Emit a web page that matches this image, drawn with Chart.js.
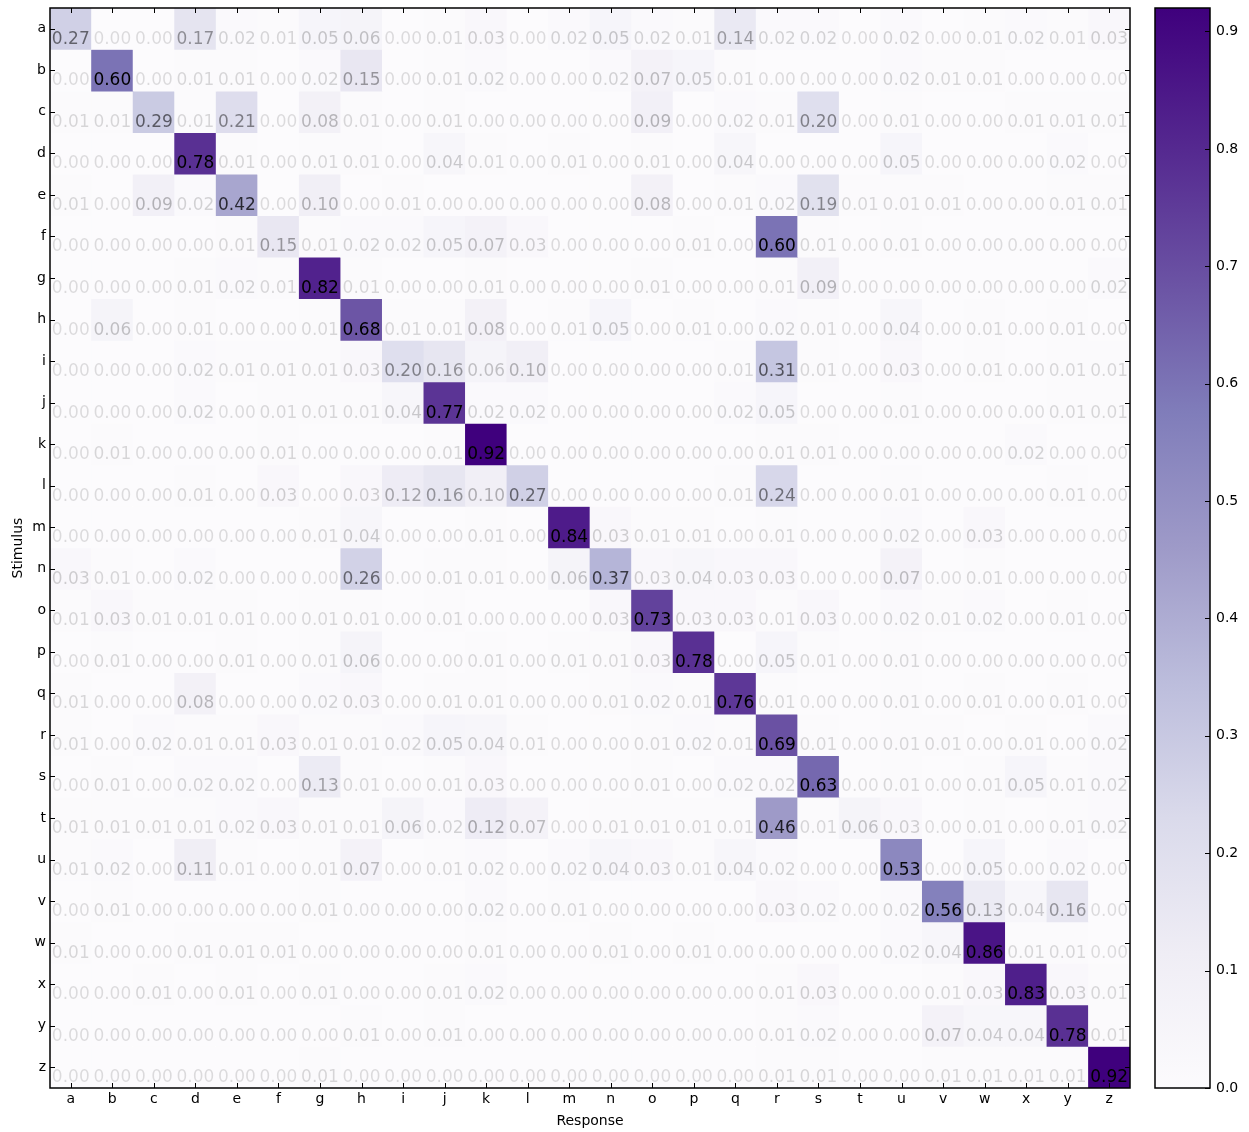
<!DOCTYPE html>
<html>
<head>
<meta charset="utf-8">
<title>Confusion matrix</title>
<script src="https://cdn.jsdelivr.net/npm/chart.js@4.4.1/dist/chart.umd.min.js"></script>
<style>
  html, body { margin: 0; padding: 0; background: #fff; }
  #wrap { position: relative; width: 1249px; height: 1132px; }
  #mainBox { position: absolute; left: 0; top: 0; width: 1140px; height: 1132px; }
  #barBox { position: absolute; left: 1140px; top: 0; width: 109px; height: 1132px; }
</style>
</head>
<body>
<div id="wrap">
  <div id="mainBox"><canvas id="matrixChart"></canvas></div>
  <div id="barBox"><canvas id="colorBar"></canvas></div>
</div>
<script>
/** Data */
const responses = 'abcdefghijklmnopqrstuvwxyz'.split('');
const stimuli = 'abcdefghijklmnopqrstuvwxyz'.split('');
const barTicks = [0.0, 0.1, 0.2, 0.3, 0.4, 0.5, 0.6, 0.7, 0.8, 0.9];

const rowA = [0.27, 0.00, 0.00, 0.17, 0.02, 0.01, 0.05, 0.06, 0.00, 0.01, 0.03, 0.00, 0.02, 0.05, 0.02, 0.01, 0.14, 0.02, 0.02, 0.00, 0.02, 0.00, 0.01, 0.02, 0.01, 0.03];
const rowB = [0.00, 0.60, 0.00, 0.01, 0.01, 0.00, 0.02, 0.15, 0.00, 0.01, 0.02, 0.00, 0.00, 0.02, 0.07, 0.05, 0.01, 0.00, 0.00, 0.00, 0.02, 0.01, 0.01, 0.00, 0.00, 0.00];
const rowC = [0.01, 0.01, 0.29, 0.01, 0.21, 0.00, 0.08, 0.01, 0.00, 0.01, 0.00, 0.00, 0.00, 0.00, 0.09, 0.00, 0.02, 0.01, 0.20, 0.00, 0.01, 0.00, 0.00, 0.01, 0.01, 0.01];
const rowD = [0.00, 0.00, 0.00, 0.78, 0.01, 0.00, 0.01, 0.01, 0.00, 0.04, 0.01, 0.00, 0.01, 0.00, 0.01, 0.00, 0.04, 0.00, 0.00, 0.00, 0.05, 0.00, 0.00, 0.00, 0.02, 0.00];
const rowE = [0.01, 0.00, 0.09, 0.02, 0.42, 0.00, 0.10, 0.00, 0.01, 0.00, 0.00, 0.00, 0.00, 0.00, 0.08, 0.00, 0.01, 0.02, 0.19, 0.01, 0.01, 0.01, 0.00, 0.00, 0.01, 0.01];
const rowF = [0.00, 0.00, 0.00, 0.00, 0.01, 0.15, 0.01, 0.02, 0.02, 0.05, 0.07, 0.03, 0.00, 0.00, 0.00, 0.01, 0.00, 0.60, 0.01, 0.00, 0.01, 0.00, 0.00, 0.00, 0.00, 0.00];
const rowG = [0.00, 0.00, 0.00, 0.01, 0.02, 0.01, 0.82, 0.01, 0.00, 0.00, 0.01, 0.00, 0.00, 0.00, 0.01, 0.00, 0.00, 0.01, 0.09, 0.00, 0.00, 0.00, 0.00, 0.00, 0.00, 0.02];
const rowH = [0.00, 0.06, 0.00, 0.01, 0.00, 0.00, 0.01, 0.68, 0.01, 0.01, 0.08, 0.00, 0.01, 0.05, 0.00, 0.01, 0.00, 0.02, 0.01, 0.00, 0.04, 0.00, 0.01, 0.00, 0.01, 0.00];
const rowI = [0.00, 0.00, 0.00, 0.02, 0.01, 0.01, 0.01, 0.03, 0.20, 0.16, 0.06, 0.10, 0.00, 0.00, 0.00, 0.00, 0.01, 0.31, 0.01, 0.00, 0.03, 0.00, 0.01, 0.00, 0.01, 0.01];
const rowJ = [0.00, 0.00, 0.00, 0.02, 0.00, 0.01, 0.01, 0.01, 0.04, 0.77, 0.02, 0.02, 0.00, 0.00, 0.00, 0.00, 0.02, 0.05, 0.00, 0.00, 0.01, 0.00, 0.00, 0.00, 0.01, 0.01];
const rowK = [0.00, 0.01, 0.00, 0.00, 0.00, 0.01, 0.00, 0.00, 0.00, 0.01, 0.92, 0.00, 0.00, 0.00, 0.00, 0.00, 0.00, 0.01, 0.01, 0.00, 0.00, 0.00, 0.00, 0.02, 0.00, 0.00];
const rowL = [0.00, 0.00, 0.00, 0.01, 0.00, 0.03, 0.00, 0.03, 0.12, 0.16, 0.10, 0.27, 0.00, 0.00, 0.00, 0.00, 0.01, 0.24, 0.00, 0.00, 0.01, 0.00, 0.00, 0.00, 0.01, 0.00];
const rowM = [0.00, 0.00, 0.00, 0.00, 0.00, 0.00, 0.01, 0.04, 0.00, 0.00, 0.01, 0.00, 0.84, 0.03, 0.01, 0.01, 0.00, 0.01, 0.00, 0.00, 0.02, 0.00, 0.03, 0.00, 0.00, 0.00];
const rowN = [0.03, 0.01, 0.00, 0.02, 0.00, 0.00, 0.00, 0.26, 0.00, 0.01, 0.01, 0.00, 0.06, 0.37, 0.03, 0.04, 0.03, 0.03, 0.00, 0.00, 0.07, 0.00, 0.01, 0.00, 0.00, 0.00];
const rowO = [0.01, 0.03, 0.01, 0.01, 0.01, 0.00, 0.01, 0.01, 0.00, 0.01, 0.00, 0.00, 0.00, 0.03, 0.73, 0.03, 0.03, 0.01, 0.03, 0.00, 0.02, 0.01, 0.02, 0.00, 0.01, 0.00];
const rowP = [0.00, 0.01, 0.00, 0.00, 0.01, 0.00, 0.01, 0.06, 0.00, 0.00, 0.01, 0.00, 0.01, 0.01, 0.03, 0.78, 0.00, 0.05, 0.01, 0.00, 0.01, 0.00, 0.00, 0.00, 0.00, 0.00];
const rowQ = [0.01, 0.00, 0.00, 0.08, 0.00, 0.00, 0.02, 0.03, 0.00, 0.01, 0.01, 0.00, 0.00, 0.01, 0.02, 0.01, 0.76, 0.01, 0.00, 0.00, 0.01, 0.00, 0.01, 0.00, 0.01, 0.00];
const rowR = [0.01, 0.00, 0.02, 0.01, 0.01, 0.03, 0.01, 0.01, 0.02, 0.05, 0.04, 0.01, 0.00, 0.00, 0.01, 0.02, 0.01, 0.69, 0.01, 0.00, 0.01, 0.01, 0.00, 0.01, 0.00, 0.02];
const rowS = [0.00, 0.01, 0.00, 0.02, 0.02, 0.00, 0.13, 0.01, 0.00, 0.01, 0.03, 0.00, 0.00, 0.00, 0.01, 0.00, 0.02, 0.02, 0.63, 0.00, 0.01, 0.00, 0.01, 0.05, 0.01, 0.02];
const rowT = [0.01, 0.01, 0.01, 0.01, 0.02, 0.03, 0.01, 0.01, 0.06, 0.02, 0.12, 0.07, 0.00, 0.01, 0.01, 0.01, 0.01, 0.46, 0.01, 0.06, 0.03, 0.00, 0.01, 0.00, 0.01, 0.02];
const rowU = [0.01, 0.02, 0.00, 0.11, 0.01, 0.00, 0.01, 0.07, 0.00, 0.01, 0.02, 0.00, 0.02, 0.04, 0.03, 0.01, 0.04, 0.02, 0.00, 0.00, 0.53, 0.00, 0.05, 0.00, 0.02, 0.00];
const rowV = [0.00, 0.01, 0.00, 0.00, 0.00, 0.00, 0.01, 0.00, 0.00, 0.00, 0.02, 0.00, 0.01, 0.00, 0.00, 0.00, 0.00, 0.03, 0.02, 0.00, 0.02, 0.56, 0.13, 0.04, 0.16, 0.00];
const rowW = [0.01, 0.00, 0.00, 0.01, 0.01, 0.01, 0.00, 0.00, 0.00, 0.00, 0.01, 0.00, 0.00, 0.01, 0.00, 0.01, 0.00, 0.00, 0.00, 0.00, 0.02, 0.04, 0.86, 0.01, 0.01, 0.00];
const rowX = [0.00, 0.00, 0.01, 0.00, 0.01, 0.00, 0.01, 0.00, 0.00, 0.01, 0.02, 0.00, 0.00, 0.00, 0.00, 0.00, 0.00, 0.01, 0.03, 0.00, 0.00, 0.01, 0.03, 0.83, 0.03, 0.01];
const rowY = [0.00, 0.00, 0.00, 0.00, 0.00, 0.00, 0.00, 0.01, 0.00, 0.01, 0.00, 0.00, 0.00, 0.00, 0.00, 0.00, 0.00, 0.01, 0.02, 0.00, 0.00, 0.07, 0.04, 0.04, 0.78, 0.01];
const rowZ = [0.00, 0.00, 0.00, 0.00, 0.00, 0.00, 0.01, 0.00, 0.00, 0.00, 0.00, 0.00, 0.00, 0.00, 0.00, 0.00, 0.00, 0.01, 0.01, 0.00, 0.00, 0.01, 0.01, 0.01, 0.01, 0.92];

const matrix = [rowA, rowB, rowC, rowD, rowE, rowF, rowG, rowH, rowI, rowJ, rowK, rowL, rowM,
  rowN, rowO, rowP, rowQ, rowR, rowS, rowT, rowU, rowV, rowW, rowX, rowY, rowZ];
const vmax = Math.max(...matrix.map((r) => Math.max(...r)));
/** End of Data */

// matplotlib "Purples"
const purpleStops = ['#fcfbfd', '#efedf5', '#dadaeb', '#bcbddc', '#9e9ac8', '#807dba', '#6a51a3', '#54278f', '#3f007d'];

function hexToRgb(h) {
  return [1, 3, 5].map((i) => parseInt(h.substr(i, 2), 16));
}

function purples(t) {
  t = Math.min(1, Math.max(0, t));
  const pos = t * (purpleStops.length - 1);
  const i = Math.min(Math.floor(pos), purpleStops.length - 2);
  const f = pos - i;
  const a = hexToRgb(purpleStops[i]);
  const b = hexToRgb(purpleStops[i + 1]);
  const c = a.map((v, k) => Math.round(v + (b[k] - v) * f));
  return `rgb(${c[0]}, ${c[1]}, ${c[2]})`;
}

function textAlpha(v) {
  return Math.min(1, 0.13 + 1.5 * v);
}

const font = '"DejaVu Sans", sans-serif';

// fixed box sizes, no extra room for label overflow
function fixBox(w, h) {
  return (s) => {
    if (w) s.width = w;
    if (h) s.height = h;
    s.paddingTop = 0;
    s.paddingBottom = 0;
    s.paddingLeft = 0;
    s.paddingRight = 0;
  };
}

/** Plugins */
const frameTicks = {
  id: 'frameTicks',
  afterDraw(chart, args, opts) {
    const { ctx, chartArea: a } = chart;
    const len = 5;
    ctx.save();
    ctx.strokeStyle = '#000';
    ctx.lineWidth = 1;
    ctx.beginPath();
    (opts.xSides || []).forEach((side) => {
      const sx = chart.scales.x;
      sx.ticks.forEach((t, i) => {
        const px = Math.round(sx.getPixelForTick(i)) + 0.5;
        const y0 = side === 'top' ? a.top : a.bottom;
        const dir = side === 'top' ? 1 : -1;
        ctx.moveTo(px, y0);
        ctx.lineTo(px, y0 + dir * len);
      });
    });
    (opts.ySides || []).forEach((side) => {
      const sy = chart.scales.y;
      sy.ticks.forEach((t, i) => {
        const py = Math.round(sy.getPixelForTick(i)) + 0.5;
        const x0 = side === 'left' ? a.left : a.right;
        const dir = side === 'left' ? 1 : -1;
        ctx.moveTo(x0, py);
        ctx.lineTo(x0 + dir * len, py);
      });
    });
    ctx.stroke();
    ctx.lineWidth = 1.5;
    ctx.strokeRect(a.left, a.top, a.width, a.height);
    ctx.restore();
  },
};

const cellText = {
  id: 'cellText',
  afterDatasetsDraw(chart) {
    const { ctx, chartArea: a } = chart;
    ctx.save();
    ctx.beginPath();
    ctx.rect(a.left, a.top, a.width, a.height);
    ctx.clip();
    ctx.font = `17px ${font}`;
    ctx.textAlign = 'center';
    ctx.textBaseline = 'alphabetic';
    matrix.forEach((row, r) => {
      chart.getDatasetMeta(r).data.forEach((bar, c) => {
        const p = bar.getCenterPoint();
        ctx.fillStyle = `rgba(0, 0, 0, ${textAlpha(row[c])})`;
        ctx.fillText(row[c].toFixed(2), p.x, p.y + 15);
      });
    });
    ctx.restore();
  },
};
/** End of Plugins */

/** Charts */
function drawMatrix() {
  const canvas = document.getElementById('matrixChart');
  new Chart(canvas.getContext('2d'), {
    type: 'bar',
    data: {
      labels: responses,
      datasets: matrix.map((row, r) => ({
        label: stimuli[r],
        data: row.map(() => [r, r + 1]),
        backgroundColor: row.map((v) => purples(v / vmax)),
        borderWidth: 0,
        grouped: false,
        barPercentage: 1,
        categoryPercentage: 1,
      })),
    },
    options: {
      responsive: true,
      maintainAspectRatio: false,
      animation: false,
      layout: { padding: { top: 8, right: 10, left: 0, bottom: 0 } },
      plugins: {
        legend: { display: false },
        tooltip: { enabled: false },
        frameTicks: { xSides: ['top', 'bottom'], ySides: ['left', 'right'] },
      },
      scales: {
        x: {
          grid: { display: false, drawTicks: false },
          border: { display: false },
          ticks: { color: '#000', font: { family: font, size: 14 }, padding: 3, maxRotation: 0, autoSkip: false },
          title: { display: true, text: 'Response', color: '#000', font: { family: font, size: 14 }, padding: { top: 0, bottom: 2 } },
          afterFit: fixBox(0, 44),
        },
        y: {
          type: 'linear',
          min: 0,
          max: stimuli.length,
          reverse: true,
          grid: { display: false, drawTicks: false },
          border: { display: false },
          afterBuildTicks: (s) => { s.ticks = stimuli.map((_, i) => ({ value: i + 0.5 })); },
          ticks: {
            color: '#000',
            font: { family: font, size: 14 },
            padding: 4,
            autoSkip: false,
            callback: (v, i) => stimuli[i],
          },
          title: { display: true, text: 'Stimulus', color: '#000', font: { family: font, size: 14 }, padding: { top: 10, bottom: 0 } },
          afterFit: fixBox(50, 0),
        },
      },
    },
    plugins: [cellText, frameTicks],
  });
}

function drawColorBar() {
  const canvas = document.getElementById('colorBar');
  new Chart(canvas.getContext('2d'), {
    type: 'bar',
    data: {
      labels: ['scale'],
      datasets: [{
        data: [[0, vmax]],
        borderWidth: 0,
        barPercentage: 1,
        categoryPercentage: 1,
        backgroundColor: (c) => {
          const area = c.chart.chartArea;
          if (!area) return purpleStops[4];
          const g = c.chart.ctx.createLinearGradient(0, area.bottom, 0, area.top);
          purpleStops.forEach((col, i) => g.addColorStop(i / (purpleStops.length - 1), col));
          return g;
        },
      }],
    },
    options: {
      responsive: true,
      maintainAspectRatio: false,
      animation: false,
      layout: { padding: { top: 8, bottom: 44, left: 15, right: 0 } },
      plugins: {
        legend: { display: false },
        tooltip: { enabled: false },
        frameTicks: { xSides: [], ySides: ['right'] },
      },
      scales: {
        x: { display: false },
        y: {
          position: 'right',
          min: 0,
          max: vmax,
          grid: { display: false, drawTicks: false },
          border: { display: false },
          afterBuildTicks: (s) => { s.ticks = barTicks.map((v) => ({ value: v })); },
          ticks: {
            color: '#000',
            font: { family: font, size: 14 },
            padding: 6,
            callback: (v) => v.toFixed(1),
          },
          afterFit: fixBox(39, 0),
        },
      },
    },
    plugins: [frameTicks],
  });
}
/** End of Charts */

drawMatrix();
drawColorBar();
</script>
</body>
</html>
